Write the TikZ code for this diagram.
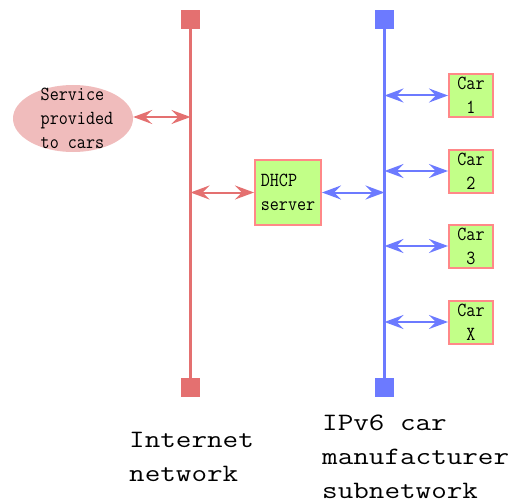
\documentclass[tikz,border=0pt]{standalone}
\usepackage{fontspec}
\newfontfamily\labelfont[FakeStretch=1.21]{Latin Modern Mono}
\newfontfamily\narrowmono[FakeStretch=0.88]{Latin Modern Mono}
\usetikzlibrary{arrows.meta,shapes.geometric}
\definecolor{netred}{RGB}{228,112,112}
\definecolor{netblue}{RGB}{108,122,255}
\definecolor{svcpink}{RGB}{240,188,188}
\definecolor{boxgreen}{RGB}{194,255,136}
\definecolor{boxedge}{RGB}{255,136,136}
\tikzset{
  smalltext/.style={font=\narrowmono\fontsize{20}{24}\selectfont},
  bigtext/.style={font=\labelfont\fontsize{25}{34}\selectfont, align=left, inner sep=0pt},
  busline/.style={line width=2.6pt},
  busend/.style={minimum width=19pt, minimum height=19pt, inner sep=0pt, outer sep=0pt},
  greenbox/.style={smalltext, draw=boxedge, fill=boxgreen, line width=2pt, inner sep=0pt},
  carbox/.style={greenbox, minimum width=44pt, minimum height=43pt, align=center},
  biarrow/.style={<->, >={Stealth[length=19pt,width=14pt,inset=7pt]}, line width=2pt},
}
\begin{document}
\begin{tikzpicture}[x=1pt,y=-1pt]
\useasboundingbox (0,0) rectangle (512,503);

% Internet bus (red)
\node[busend, fill=netred] (rtop) at (190.5,20) {};
\node[busend, fill=netred] (rbot) at (190.5,387) {};
\draw[busline, netred] (rtop.center) -- (rbot.center);

% car manufacturer bus (blue)
\node[busend, fill=netblue] (btop) at (384.5,20) {};
\node[busend, fill=netblue] (bbot) at (384.5,387) {};
\draw[busline, netblue] (btop.center) -- (bbot.center);

% service offered to the cars
\node[ellipse, fill=svcpink, minimum width=120pt, minimum height=67pt, inner sep=0pt] (svc) at (73,118.5) {};
\node[smalltext, align=left, inner sep=0pt] (svctext) at (77,118.5) {Service\\provided\\to cars};

% DHCP server
\node[greenbox, minimum width=66pt, minimum height=65pt, align=left] (dhcp) at (288,192.5) {DHCP\\server};

% cars
\node[carbox] (car1) at (471,95.5) {Car\\1};
\node[carbox] (car2) at (471,171) {Car\\2};
\node[carbox] (car3) at (471,246) {Car\\3};
\node[carbox] (carx) at (471,322) {Car\\X};

% attachment points on the buses
\coordinate (rsvc) at (190.5,117);
\coordinate (rdhcp) at (190.5,192.5);
\coordinate (bdhcp) at (384.5,192.5);
\coordinate (bc1) at (384.5,95.5);
\coordinate (bc2) at (384.5,171);
\coordinate (bc3) at (384.5,246);
\coordinate (bcx) at (384.5,322);

% links
\draw[biarrow, netred] (svc.east |- rsvc) -- (rsvc);
\draw[biarrow, netred] (rdhcp) -- (dhcp.west |- rdhcp);
\draw[biarrow, netblue] (dhcp.east |- bdhcp) -- (bdhcp);
\draw[biarrow, netblue] (bc1) -- (car1.west);
\draw[biarrow, netblue] (bc2) -- (car2.west);
\draw[biarrow, netblue] (bc3) -- (car3.west);
\draw[biarrow, netblue] (bcx) -- (carx.west);

% network names (base anchor sits on the last line)
\node[bigtext, anchor=base west] (inetlabel) at (129,481) {Internet\\network};
\node[bigtext, anchor=base west] (ipv6label) at (322,498) {IPv6 car\\manufacturer\\subnetwork};
\end{tikzpicture}
\end{document}
